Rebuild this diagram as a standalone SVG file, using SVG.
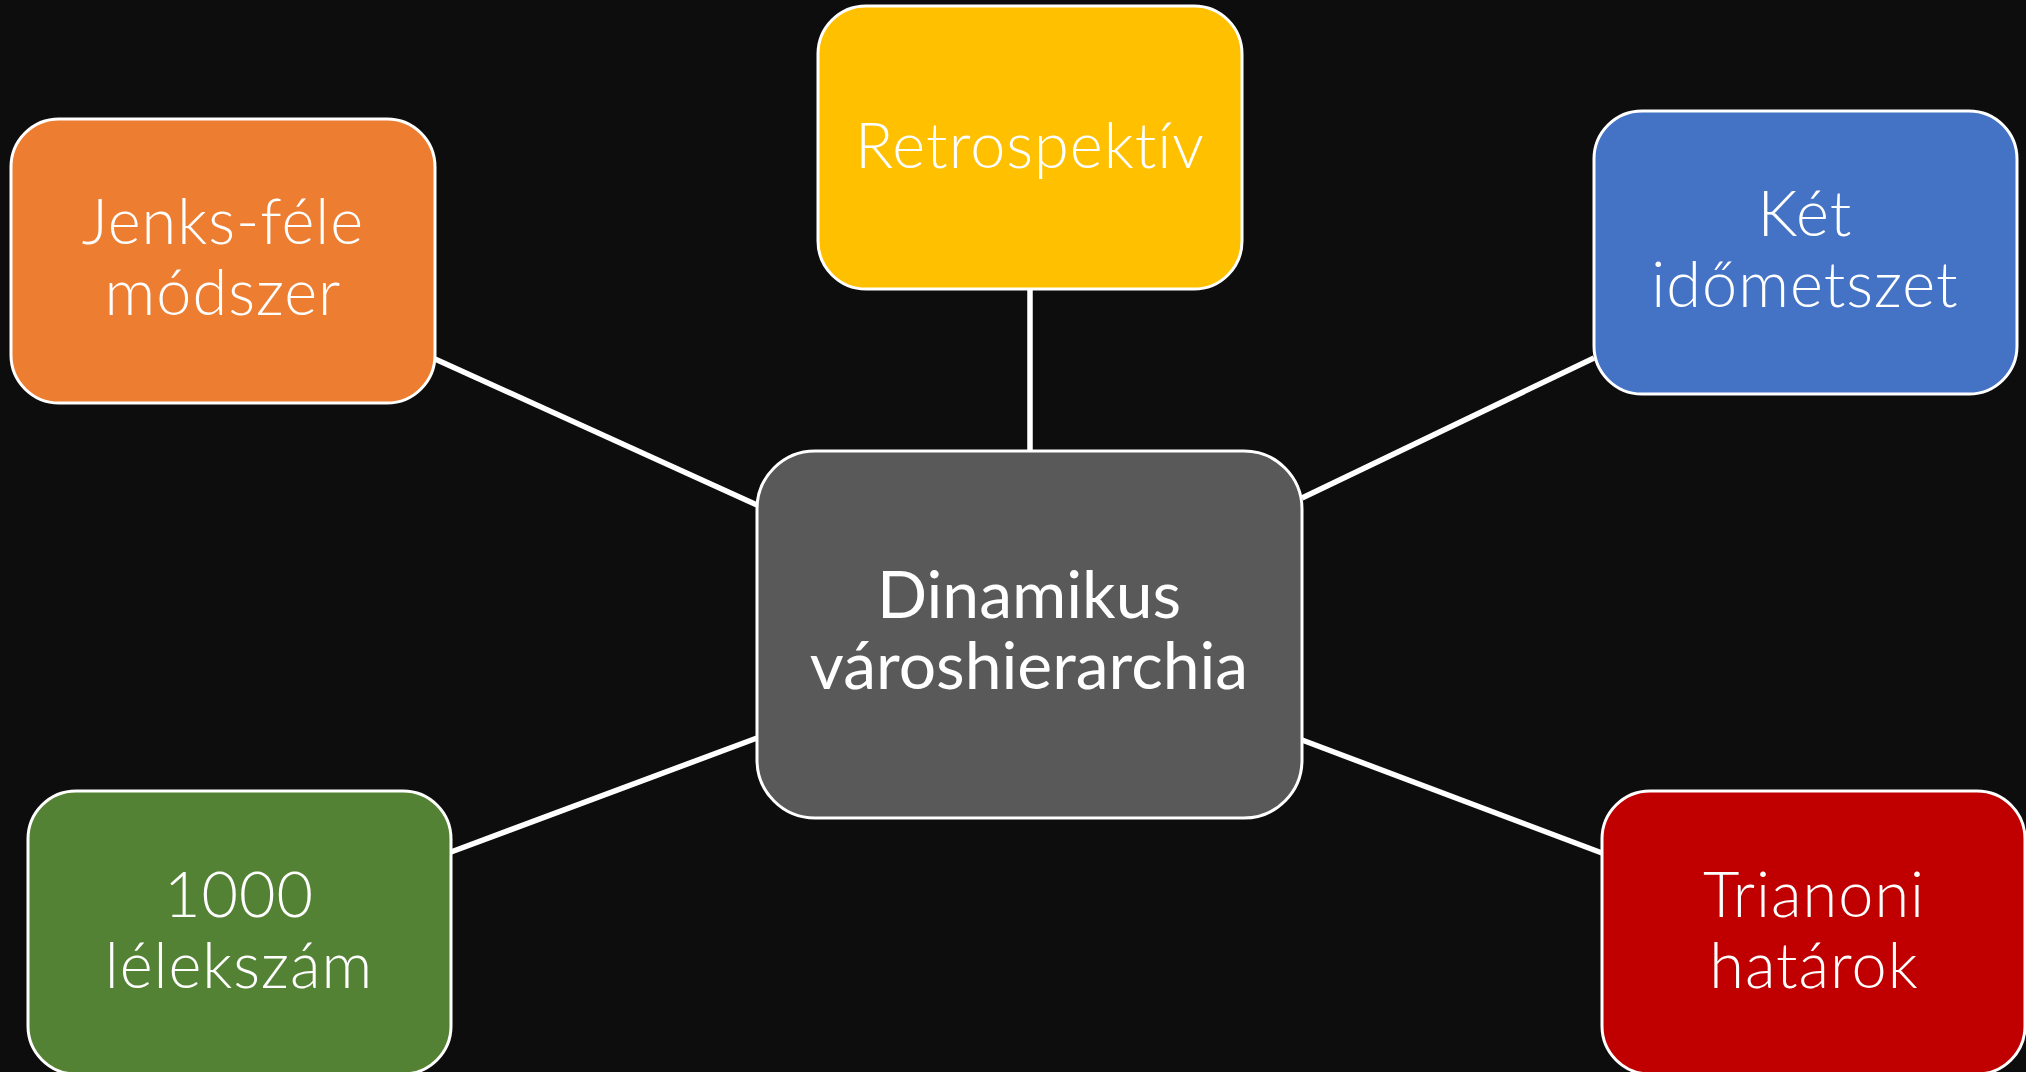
<svg xmlns="http://www.w3.org/2000/svg" width="2026" height="1072" viewBox="0 0 2026 1072">
<style>
.box{stroke:#ffffff;stroke-width:3}
.lbl{font-family:Lato,"Open Sans","Liberation Sans",sans-serif;font-weight:300;fill:#ffffff;text-anchor:middle;font-size:63px;letter-spacing:1px}
.ctr{font-family:Lato,"Open Sans","Liberation Sans",sans-serif;font-weight:400;fill:#ffffff;text-anchor:middle;font-size:66px}
.conn{stroke:#ffffff;stroke-width:5.5;fill:none}
</style>
<rect width="2026" height="1072" fill="#0d0d0d"/>
<g id="connectors">
<line class="conn" x1="435" y1="359" x2="757" y2="505"/>
<line class="conn" x1="1030" y1="289" x2="1030" y2="451"/>
<line class="conn" x1="1594" y1="358" x2="1302" y2="498"/>
<line class="conn" x1="451" y1="852" x2="757" y2="738"/>
<line class="conn" x1="1602" y1="853" x2="1302" y2="740"/>
</g>
<g id="center">
<rect class="box" x="757" y="451" width="545" height="367" rx="58" fill="#595959"/>
<text class="ctr" x="1029" y="618">Dinamikus</text>
<text class="ctr" x="1029" y="689">városhierarchia</text>
</g>
<g id="jenks">
<rect class="box" x="11" y="119" width="424" height="284" rx="48" fill="#ED7D31"/>
<text class="lbl" x="223" y="244">Jenks-féle</text>
<text class="lbl" x="223" y="315">módszer</text>
</g>
<g id="retro">
<rect class="box" x="818" y="6" width="424" height="283" rx="48" fill="#FFC000"/>
<text class="lbl" x="1030" y="168">Retrospektív</text>
</g>
<g id="ket">
<rect class="box" x="1594" y="111" width="423" height="283" rx="48" fill="#4472C4"/>
<text class="lbl" x="1805" y="236">Két</text>
<text class="lbl" x="1805" y="307">időmetszet</text>
</g>
<g id="ezer">
<rect class="box" x="28" y="791" width="423" height="283" rx="48" fill="#548235"/>
<text class="lbl" x="239" y="917">1000</text>
<text class="lbl" x="239" y="988">lélekszám</text>
</g>
<g id="trianon">
<rect class="box" x="1602" y="791" width="423" height="283" rx="48" fill="#C00000"/>
<text class="lbl" x="1814" y="917">Trianoni</text>
<text class="lbl" x="1814" y="988">határok</text>
</g>
</svg>
